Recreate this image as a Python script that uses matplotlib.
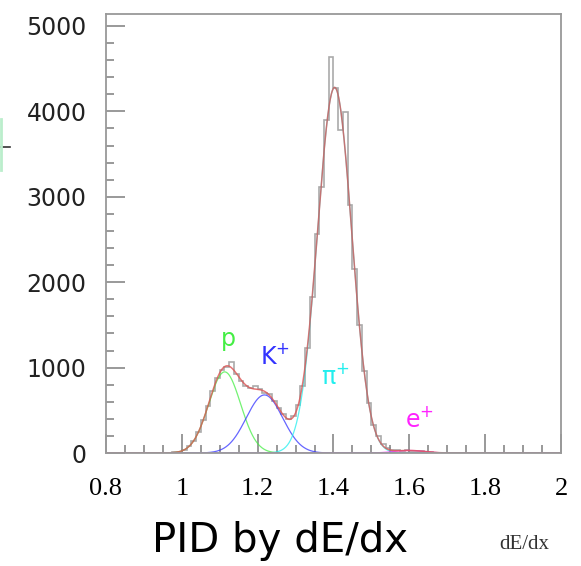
import numpy as np
import matplotlib
matplotlib.use("Agg")
import matplotlib.pyplot as plt
from matplotlib.ticker import MultipleLocator
from matplotlib.lines import Line2D

# histogram of dE/dx (bin width 0.0125, first bin starts at 0.975)
bin_lo = 0.975
bin_width = 0.0125
counts = [7, 17, 38, 77, 143, 245, 383, 550, 726, 879,
          975, 1010, 1060, 925, 840, 790, 765, 780, 750, 705,
          690, 610, 530, 460, 400, 430, 560, 790, 1230, 1830,
          2560, 3120, 3900, 4640, 4275, 3785, 3995, 2900, 2150, 1500,
          960, 580, 330, 200, 110, 60, 40, 30, 25, 30,
          28, 25, 20, 15, 10, 6]

# gaussian fit components: amplitude, mean, sigma
species = ["p", "K$^{+}$", "\u03c0$^{+}$", "e$^{+}$"]
amps = [950, 680, 4280, 30]
means = [1.113, 1.218, 1.403, 1.60]
sigmas = [0.042, 0.048, 0.045, 0.040]
colors = ["#44ee44", "#3333ff", "#22eeee", "#ff22ff"]
label_x = [1.122, 1.246, 1.404, 1.628]
label_y = [1330, 1130, 900, 390]

fig = plt.figure(figsize=(5.81, 5.66), dpi=100)
ax = fig.add_axes([0.1824, 0.1996, 0.7832, 0.7757])

# histogram as steps over full range
edges = bin_lo + bin_width * np.arange(len(counts) + 1)
full_edges = np.concatenate([[0.8], edges, [2.0]])
full_counts = np.concatenate([[0], counts, [0]])
ax.stairs(full_counts, full_edges, color="#aaaaaa", lw=1.2, baseline=None)

x = np.linspace(0.8, 2.0, 1200)
total = np.zeros_like(x)
for a, m, s, c in zip(amps, means, sigmas, colors):
    g = a * np.exp(-(x - m) ** 2 / (2 * s * s))
    total += g
    ax.plot(x, g, color=c, lw=0.9, alpha=0.75)
ax.plot(x, total, color="#dd5555", lw=1.1, alpha=0.8)

for name, tx, ty, c in zip(species, label_x, label_y, colors):
    ax.text(tx, ty, name, color=c, fontsize=17, ha="center", va="center",
            family="DejaVu Sans")

ax.set_xlim(0.8, 2.0)
ax.set_ylim(0, 5140)
ax.set_xticks([0.8, 1.0, 1.2, 1.4, 1.6, 1.8, 2.0])
ax.set_xticklabels(["0.8", "1", "1.2", "1.4", "1.6", "1.8", "2"],
                   family="Liberation Serif", fontsize=19)
ax.set_yticks([0, 1000, 2000, 3000, 4000, 5000])
ax.set_yticklabels(["0", "1000", "2000", "3000", "4000", "5000"],
                   family="DejaVu Sans", fontsize=17, color="#222222")
ax.xaxis.set_minor_locator(MultipleLocator(0.05))
ax.yaxis.set_minor_locator(MultipleLocator(200))
ax.tick_params(which="both", direction="in", color="#888888",
               top=False, right=False, width=1.2)
ax.tick_params(which="major", length=14)
ax.tick_params(which="minor", length=6)
ax.tick_params(axis="x", pad=18)
ax.tick_params(axis="y", pad=14)
for sp in ax.spines.values():
    sp.set_color("#999999")
    sp.set_linewidth(1.3)

fig.text(0.482, 0.008, "PID by dE/dx", fontsize=29, ha="center", va="bottom",
         family="DejaVu Sans")
fig.text(0.902, 0.022, "dE/dx", fontsize=15, ha="center", va="bottom",
         family="Liberation Serif", color="#333333")

# cropped mark at the left edge
fig.add_artist(Line2D([0, 0.018], [0.741, 0.741], color="#333333", lw=1.2))
fig.add_artist(Line2D([0.002, 0.002], [0.70, 0.79], color="#bbeecc", lw=2))

fig.savefig("out.png", dpi=100)
